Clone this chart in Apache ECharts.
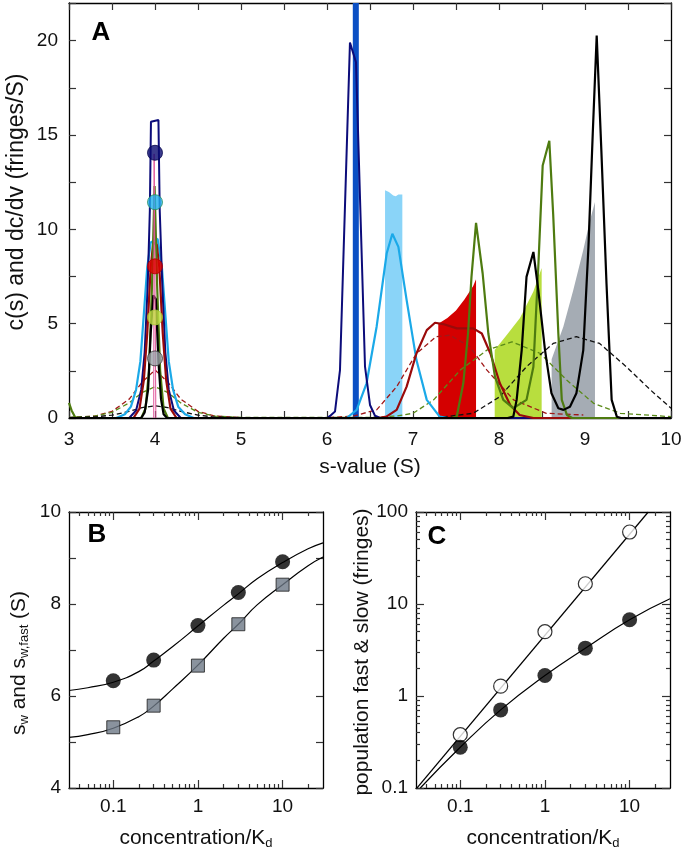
<!DOCTYPE html>
<html><head><meta charset="utf-8">
<script src="https://cdn.jsdelivr.net/npm/echarts@6.0.0/dist/echarts.min.js"></script>
<style>html,body{margin:0;padding:0;background:#fff}#c{width:682px;height:853px}</style>
</head><body><div id="c"></div>
<script>
// ---------- Panel A data: [s-value, c(s) or dc/dv] ----------
const navyCs = [[3,0],[3.7,0],[3.78,0.4],[3.84,1.5],[3.88,3.5],[3.915,7],[3.94,11],[3.953,15.7],[4.04,15.8],[4.055,11],[4.085,7],[4.12,3.5],[4.16,1.5],[4.22,0.4],[4.3,0],[6.0,0],[6.035,0.11],[6.093,0.34],[6.151,2.54],[6.267,19.9],[6.337,18.86],[6.442,2.72],[6.5,0.69],[6.558,0.12],[6.62,0],[10,0]];
const cyanCs = [[3,0],[3.55,0],[3.65,0.2],[3.72,0.6],[3.78,1.5],[3.83,3],[3.87,5.5],[3.91,8],[3.95,9.3],[4.03,9.5],[4.08,8],[4.12,5.5],[4.16,3],[4.21,1.5],[4.27,0.6],[4.35,0.2],[4.45,0],[6.23,0],[6.345,0.43],[6.46,1.84],[6.577,4.84],[6.694,8.72],[6.76,9.77],[6.83,9.07],[6.926,6.25],[7.04,3.07],[7.16,0.96],[7.31,0.07],[7.4,0],[10,0]];
const darkredCs = [[3,0],[3.75,0],[3.82,0.5],[3.87,2],[3.91,4.5],[3.95,8],[3.98,9.3],[4.02,9.2],[4.05,8],[4.09,4.5],[4.13,2],[4.18,0.5],[4.25,0],[6.6,0],[6.69,0.07],[6.81,0.43],[6.926,1.66],[7.04,3.42],[7.16,4.66],[7.256,5.05],[7.35,4.98],[7.51,4.75],[7.70,4.75],[7.8,4.48],[7.9,3.42],[8.01,1.84],[8.13,0.69],[8.24,0.16],[8.4,0],[10,0]];
const oliveCs = [[3,0.8],[3.03,0.4],[3.07,0.05],[3.12,0],[3.84,0],[3.89,0.5],[3.93,2.5],[3.965,7],[3.995,12.3],[4.025,7],[4.06,2.5],[4.1,0.5],[4.15,0],[7.45,0],[7.508,0.07],[7.585,1.84],[7.64,4.48],[7.68,7.48],[7.733,10.34],[7.81,7.66],[7.876,4.48],[7.953,2.19],[8.05,0.96],[8.166,0.52],[8.32,0.96],[8.4,2.72],[8.457,8.0],[8.508,13.39],[8.585,14.7],[8.63,10.8],[8.69,4.48],[8.73,0.96],[8.79,0.16],[8.85,0],[10,0]];
const blackCs = [[3,0],[3.84,0],[3.88,0.3],[3.92,1.5],[3.95,4.5],[3.98,6.5],[4.01,6.3],[4.04,3],[4.07,1],[4.1,0.2],[4.14,0],[8.1,0],[8.166,0.07],[8.205,0.96],[8.264,3.6],[8.32,7.48],[8.4,8.8],[8.457,6.78],[8.535,3.6],[8.61,1.31],[8.69,0.52],[8.75,0.43],[8.825,0.6],[8.9,1.31],[8.98,3.6],[9.04,9.07],[9.09,15.06],[9.136,20.27],[9.19,14.2],[9.25,7.13],[9.31,0.96],[9.37,0.07],[9.42,0],[10,0]];
const pinkCs = [[3.985,0],[3.99,14],[4.005,14],[4.01,0]];

const darkredDash = [[3,0.02],[3.3,0.1],[3.5,0.35],[3.7,1.0],[3.85,1.9],[4.0,2.55],[4.15,1.9],[4.3,1.0],[4.5,0.35],[4.7,0.1],[5.0,0.02],[6.0,0.02],[6.3,0.1],[6.577,0.43],[6.81,1.66],[7.04,3.42],[7.27,4.31],[7.43,4.39],[7.66,3.78],[7.86,2.54],[8.17,0.96],[8.55,0.25],[8.98,0.16]];
const oliveDash = [[3,0.03],[3.3,0.1],[3.5,0.3],[3.7,0.8],[3.85,1.35],[4.0,1.66],[4.15,1.35],[4.3,0.8],[4.5,0.3],[4.7,0.1],[5.0,0.03],[6.5,0.03],[6.8,0.1],[7.0,0.25],[7.24,0.96],[7.55,2.54],[7.86,3.6],[8.15,4.04],[8.48,3.42],[8.79,2.0],[9.1,0.78],[9.41,0.25],[10,0.07]];
const blackDash = [[3,0.02],[3.3,0.06],[3.5,0.15],[3.7,0.35],[3.85,0.55],[4.0,0.65],[4.15,0.55],[4.3,0.35],[4.5,0.15],[4.7,0.05],[5.0,0.02],[7.3,0.02],[7.7,0.25],[8.01,1.13],[8.32,2.72],[8.63,3.95],[8.9,4.31],[9.17,3.95],[9.48,2.72],[9.76,1.49],[10,0.52]];

const blueBar = [[6.30,0],[6.30,24],[6.37,24],[6.37,0]];
const lightBlueFill = [[6.675,0],[6.675,12.07],[6.72,11.98],[6.77,11.8],[6.8,11.75],[6.83,11.85],[6.876,11.85],[6.876,0]];
const redFill = [[7.294,0],[7.294,5.0],[7.4,5.3],[7.5,5.7],[7.6,6.3],[7.7,7.0],[7.733,7.35],[7.733,0]];
const ygFill = [[7.95,0],[7.95,3.6],[8.09,4.4],[8.244,5.3],[8.4,6.7],[8.496,7.95],[8.496,0]];
const grayFill = [[8.612,0],[8.612,3.12],[8.748,4.84],[8.864,6.78],[8.98,8.9],[9.058,10.48],[9.116,11.45],[9.116,0]];

const dotS = 4.0;
const dotValues = [14.06, 11.44, 8.04, 5.33, 3.16];
const dotColors = ['#0a0a70', '#22b0ee', '#e00000', '#c4e446', '#9aa0a8'];
const dotBorders = ['#05054a', '#2a8f5a', '#b00000', '#a8c83a', '#333333'];

// ---------- Panel B data ----------
const concentrations = [0.1, 0.3, 1, 3, 10];
const swValues = [6.33, 6.78, 7.53, 8.25, 8.92];
const swFastValues = [5.32, 5.79, 6.66, 7.56, 8.42];
const fitConc = [0.03, 0.05, 0.1, 0.2, 0.3, 0.5, 1, 2, 3, 5, 10, 20, 30];
const swFit = [6.12, 6.18, 6.30, 6.53, 6.76, 7.07, 7.52, 7.97, 8.22, 8.55, 8.90, 9.20, 9.33];
const swFastFit = [5.10, 5.16, 5.30, 5.55, 5.78, 6.15, 6.67, 7.25, 7.56, 7.98, 8.42, 8.83, 9.02];

// ---------- Panel C data ----------
const popFast = [0.38, 1.28, 5.0, 16.6, 60.6];
const popSlow = [0.277, 0.706, 1.67, 3.31, 6.74];
const popFastFit = [[0.03, 0.097], [16.6, 100]];
const popSlowFitConc = [0.0337, 0.1, 0.3, 1, 3, 10, 30];
const popSlowFit = [0.1, 0.277, 0.706, 1.67, 3.31, 6.74, 11.4];

// ---------- tick labels / titles ----------
const logMajor = [0.1, 1, 10];
const logMajorC = [0.1, 1, 10, 100];
const titleA = 'c(s) and dc/dv (fringes/S)';
const titleB = '{a|s}{b|w}{a| and s}{b|w,fast}{a| (S)}';
const titleC = 'population fast & slow (fringes)';

const FONT = '"Liberation Sans", Arial, Helvetica, sans-serif';
const TXT = '#111';

function minorLog(lo, hi) {
  const out = [];
  for (let e = -3; e <= 3; e++) {
    const d = Math.pow(10, e);
    for (let k = 2; k <= 9; k++) {
      const v = +(k * d).toPrecision(3);
      if (v > lo && v < hi) out.push(v);
    }
  }
  return out;
}
const zip = (xs, ys) => xs.map((x, i) => [x, ys[i]]);
const fmtNum = v => String(+(+v).toPrecision(3));

const axisLine = {show: true, onZero: false, lineStyle: {color: '#000', width: 1.3}};
const tickStyle = {color: '#333', width: 1.2};

function linX(grid, pos, labels, extra) {
  return Object.assign({
    gridIndex: grid, type: 'value', position: pos,
    axisLine: axisLine, splitLine: {show: false},
    axisTick: {show: true, inside: true, length: 7, lineStyle: tickStyle},
    axisLabel: {show: labels, margin: 12, fontSize: 19, color: TXT, fontFamily: FONT}
  }, extra);
}
function logAx(grid, pos, min, max, ticks, len, labels, lineShow, extra) {
  return Object.assign({
    gridIndex: grid, type: 'log', logBase: 10, position: pos, min: min, max: max,
    axisLine: lineShow ? axisLine : {show: false, onZero: false},
    splitLine: {show: false}, minorTick: {show: false}, minorSplitLine: {show: false},
    axisTick: {show: true, inside: true, length: len, customValues: ticks, lineStyle: tickStyle},
    axisLabel: labels ? {show: true, customValues: ticks, formatter: fmtNum, margin: 9, fontSize: 19, color: TXT, fontFamily: FONT} : {show: false}
  }, extra);
}

const subRich = {
  a: {fontSize: 21, fontFamily: FONT, color: TXT, lineHeight: 24},
  b: {fontSize: 13, fontFamily: FONT, color: TXT, lineHeight: 10, verticalAlign: 'bottom'}
};

const xMinorB = minorLog(0.03, 30);
const yMinorC = minorLog(0.1, 100);

const xAxes = [
  // Panel A
  linX(0, 'bottom', true, {min: 3, max: 10, interval: 0.5,
    axisLabel: {show: true, margin: 12, fontSize: 19, color: TXT, fontFamily: FONT, formatter: v => Number.isInteger(v) ? String(v) : ''},
    name: 's-value (S)', nameLocation: 'middle', nameGap: 39, nameTextStyle: {fontSize: 21, fontFamily: FONT, color: TXT}}),
  linX(0, 'top', false, {min: 3, max: 10, interval: 0.5}),
  // Panel B
  logAx(1, 'bottom', 0.03, 30, logMajor, 8, true, true, {
    name: '{a|concentration/K}{b|d}', nameLocation: 'middle', nameGap: 38, nameTextStyle: {rich: subRich}}),
  logAx(1, 'bottom', 0.03, 30, xMinorB, 4, false, false),
  logAx(1, 'top', 0.03, 30, logMajor, 8, false, true),
  logAx(1, 'top', 0.03, 30, xMinorB, 4, false, false),
  // Panel C
  logAx(2, 'bottom', 0.03, 30, logMajor, 8, true, true, {
    name: '{a|concentration/K}{b|d}', nameLocation: 'middle', nameGap: 38, nameTextStyle: {rich: subRich}}),
  logAx(2, 'bottom', 0.03, 30, xMinorB, 4, false, false),
  logAx(2, 'top', 0.03, 30, logMajor, 8, false, true),
  logAx(2, 'top', 0.03, 30, xMinorB, 4, false, false)
];

const yAxes = [
  // Panel A
  {gridIndex: 0, type: 'value', position: 'left', min: 0, max: 22, interval: 2.5,
    axisLine: axisLine, splitLine: {show: false},
    axisTick: {show: true, inside: true, length: 7, lineStyle: tickStyle},
    axisLabel: {show: true, margin: 11, fontSize: 19, color: TXT, fontFamily: FONT, formatter: v => (v % 5 === 0 ? String(v) : '')}},
  {gridIndex: 0, type: 'value', position: 'right', min: 0, max: 22, interval: 2.5,
    axisLine: axisLine, splitLine: {show: false},
    axisTick: {show: true, inside: true, length: 7, lineStyle: tickStyle}, axisLabel: {show: false}},
  // Panel B
  {gridIndex: 1, type: 'value', position: 'left', min: 4, max: 10, interval: 1,
    axisLine: axisLine, splitLine: {show: false},
    axisTick: {show: true, inside: true, length: 7, lineStyle: tickStyle},
    axisLabel: {show: true, margin: 8, fontSize: 19, color: TXT, fontFamily: FONT, formatter: v => (v % 2 === 0 ? String(v) : '')}},
  {gridIndex: 1, type: 'value', position: 'right', min: 4, max: 10, interval: 1,
    axisLine: axisLine, splitLine: {show: false},
    axisTick: {show: true, inside: true, length: 7, lineStyle: tickStyle}, axisLabel: {show: false}},
  // Panel C
  logAx(2, 'left', 0.1, 100, logMajorC, 8, true, true, {
    axisLabel: {show: true, customValues: logMajorC, formatter: fmtNum, margin: 8, fontSize: 19, color: TXT, fontFamily: FONT}}),
  logAx(2, 'left', 0.1, 100, yMinorC, 4, false, false),
  logAx(2, 'right', 0.1, 100, logMajorC, 8, false, true),
  logAx(2, 'right', 0.1, 100, yMinorC, 4, false, false)
];

function fill(data, color) {
  return {type: 'line', xAxisIndex: 0, yAxisIndex: 0, data: data, symbol: 'none', z: 1,
    lineStyle: {width: 0, color: color}, areaStyle: {color: color, opacity: 1}, silent: true};
}
function aLine(data, color, width, dashed, z) {
  return {type: 'line', xAxisIndex: 0, yAxisIndex: 0, data: data, symbol: 'none', z: z,
    lineStyle: {width: width, color: color, type: dashed ? [5, 3] : 'solid'}, silent: true};
}

const series = [
  fill(blueBar, '#0b4fc4'),
  fill(lightBlueFill, '#8ad4f8'),
  fill(redFill, '#d40000'),
  fill(ygFill, '#b8de3e'),
  fill(grayFill, '#a5acb4'),
  aLine(darkredDash, '#a01818', 1.3, true, 2),
  aLine(oliveDash, '#5a8a18', 1.3, true, 2),
  aLine(blackDash, '#111111', 1.3, true, 2),
  aLine(cyanCs, '#1ba9e8', 2.2, false, 3),
  aLine(navyCs, '#0c0c7a', 2, false, 3),
  aLine(darkredCs, '#9a0a0a', 2.2, false, 3),
  aLine(oliveCs, '#4e7b10', 2.2, false, 3),
  aLine(blackCs, '#000000', 2.2, false, 3),
  aLine(pinkCs, '#e0559a', 1, false, 3),
  {type: 'scatter', xAxisIndex: 0, yAxisIndex: 0, symbol: 'circle', symbolSize: 15, z: 5,
    data: dotValues.map((v, i) => ({value: [dotS, v], itemStyle: {color: dotColors[i], borderColor: dotBorders[i], borderWidth: 1}}))},
  // Panel B
  {type: 'line', xAxisIndex: 2, yAxisIndex: 2, data: zip(fitConc, swFit), smooth: true, symbol: 'none', z: 2,
    lineStyle: {color: '#000', width: 1.2}},
  {type: 'line', xAxisIndex: 2, yAxisIndex: 2, data: zip(fitConc, swFastFit), smooth: true, symbol: 'none', z: 2,
    lineStyle: {color: '#000', width: 1.2}},
  {type: 'scatter', xAxisIndex: 2, yAxisIndex: 2, data: zip(concentrations, swValues), symbol: 'circle', symbolSize: 15, z: 4,
    itemStyle: {color: '#000'}},
  {type: 'scatter', xAxisIndex: 2, yAxisIndex: 2, data: zip(concentrations, swFastValues), symbol: 'rect', symbolSize: 13, z: 4,
    itemStyle: {color: '#6d7886', borderColor: '#1a1a1a', borderWidth: 1}},
  // Panel C
  {type: 'line', xAxisIndex: 6, yAxisIndex: 4, data: popFastFit, symbol: 'none', z: 2, lineStyle: {color: '#000', width: 1.2}},
  {type: 'line', xAxisIndex: 6, yAxisIndex: 4, data: zip(popSlowFitConc, popSlowFit), smooth: true, symbol: 'none', z: 2,
    lineStyle: {color: '#000', width: 1.2}},
  {type: 'scatter', xAxisIndex: 6, yAxisIndex: 4, data: zip(concentrations, popFast), symbol: 'circle', symbolSize: 14, z: 4,
    itemStyle: {color: '#fff', borderColor: '#000', borderWidth: 1.2}},
  {type: 'scatter', xAxisIndex: 6, yAxisIndex: 4, data: zip(concentrations, popSlow), symbol: 'circle', symbolSize: 15, z: 4,
    itemStyle: {color: '#000'}}
];

function label(t, x, y) {
  return {type: 'text', z: 100, style: {text: t, x: x, y: y, textAlign: 'center', textVerticalAlign: 'middle',
    align: 'center', verticalAlign: 'middle', font: 'bold 26px ' + FONT, fill: '#000'}};
}
function vTitle(t, x, y, size, rich) {
  const st = {text: t, x: 0, y: 0, textAlign: 'center', textVerticalAlign: 'middle', align: 'center', verticalAlign: 'middle',
    font: size + 'px ' + FONT, fill: TXT};
  if (rich) st.rich = rich;
  return {type: 'text', z: 100, x: x, y: y, rotation: Math.PI / 2, style: st};
}

const chart = echarts.init(document.getElementById('c'), null, {renderer: 'canvas'});
chart.setOption({
  animation: false,
  backgroundColor: '#fff',
  grid: [
    {left: 69, top: 3, width: 602, height: 415, outerBoundsMode: 'none', containLabel: false},
    {left: 69, top: 512, width: 254, height: 276, outerBoundsMode: 'none', containLabel: false},
    {left: 416, top: 512, width: 254, height: 276, outerBoundsMode: 'none', containLabel: false}
  ],
  xAxis: xAxes,
  yAxis: yAxes,
  series: series,
  graphic: [label('A', 101, 33), label('B', 97, 535), label('C', 437, 537),
    vTitle(titleA, 17, 202, 23), vTitle(titleB, 19, 663, 21, subRich), vTitle(titleC, 362, 652, 21)]
});
</script></body></html>
